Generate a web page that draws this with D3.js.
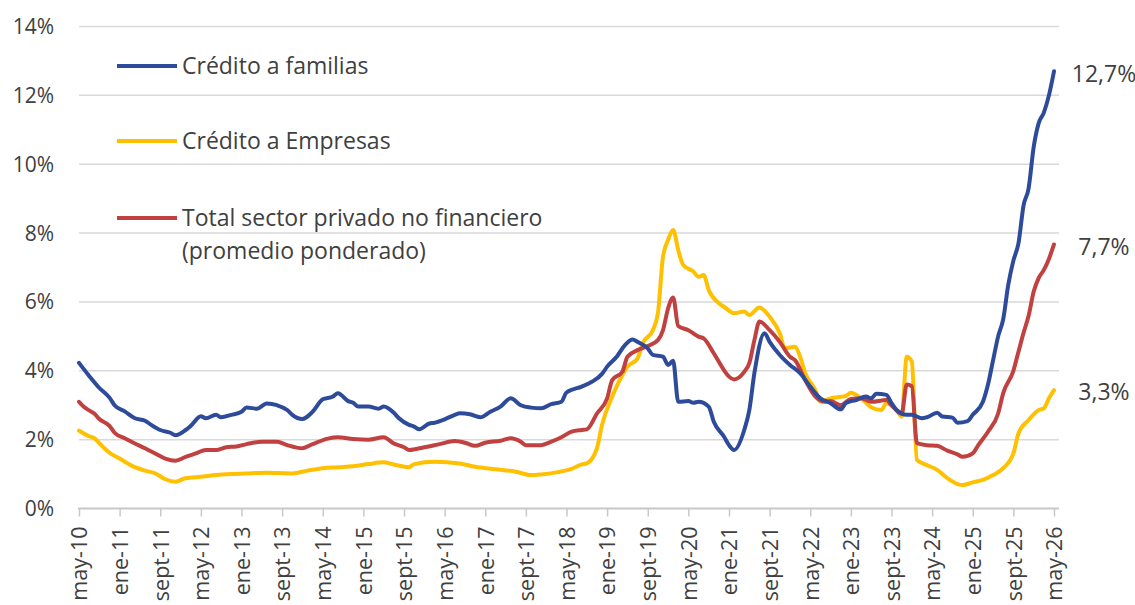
<!DOCTYPE html>
<html>
<head>
<meta charset="utf-8">
<script src="https://cdn.jsdelivr.net/npm/d3@7"></script>
<style>
  html, body { margin: 0; padding: 0; background: #fff; }
  svg { display: block; }
  text { font-family: "Open Sans", "Noto Sans", sans-serif; }
</style>
</head>
<body>
<svg id="chart" width="1135" height="605"></svg>
<script>
// ---- DATA (month index counted from May 2010 = 0, value in %) ----
const familias = [
  [0,4.23],[2,3.85],[4,3.5],[6,3.22],[7,3.0],[9,2.82],[11,2.62],[13,2.55],[14,2.45],[16,2.28],
  [18,2.2],[19,2.13],[21,2.28],[22,2.4],[24,2.68],[25,2.62],[27,2.72],[28,2.65],[30,2.72],[32,2.81],
  [33,2.93],[35,2.9],[37,3.05],[39,3.0],[41,2.86],[42,2.72],[44,2.6],[46,2.81],[48,3.17],[50,3.25],
  [51,3.35],[53,3.12],[54,3.07],[55,2.96],[57,2.96],[59,2.9],[60,2.96],[62,2.78],[63,2.62],[65,2.43],
  [66,2.38],[67,2.3],[69,2.47],[70,2.49],[72,2.59],[74,2.72],[75,2.77],[77,2.74],[79,2.65],[81,2.81],
  [83,2.96],[85,3.2],[87,3.0],[89,2.93],[91,2.91],[93,3.03],[95,3.1],[96,3.37],[99,3.54],[101,3.68],
  [103,3.91],[104,4.12],[106,4.43],[107,4.65],[109,4.91],[110,4.84],[112,4.65],[113,4.46],[115,4.41],[116,4.17],
  [117,4.29],[118,3.1],[120,3.12],[121,3.07],[122,3.1],[124,2.96],[125,2.52],[127,2.09],[128,1.84],[129,1.7],
  [131,2.28],[132,2.86],[133,3.93],[135,5.09],[136,4.84],[138,4.46],[140,4.17],[142,3.93],[144,3.54],[146,3.2],
  [148,3.06],[150,2.88],[151,3.06],[153,3.15],[155,3.25],[156,3.2],[157,3.33],[159,3.3],[160,3.06],[161,2.86],
  [163,2.72],[164,2.72],[166,2.62],[167,2.65],[169,2.78],[170,2.67],[172,2.64],[173,2.49],[175,2.54],[176,2.72],
  [178,3.1],[179,3.6],[180,4.3],[181,5.0],[182,5.5],[183,6.5],[184,7.2],[185,7.7],[186,8.8],[187,9.3],
  [188,10.5],[189,11.2],[190,11.5],[191,12.0],[192,12.7]
];
const empresas = [
  [0,2.26],[2,2.1],[3,2.04],[4,1.9],[5,1.75],[6,1.62],[8,1.45],[11,1.2],[13,1.1],[15,1.02],
  [17,0.85],[19,0.78],[21,0.88],[24,0.92],[27,0.97],[30,1.0],[33,1.02],[37,1.04],[42,1.02],[45,1.1],
  [48,1.17],[51,1.2],[54,1.23],[57,1.29],[60,1.34],[62,1.28],[65,1.2],[66,1.29],[70,1.36],[75,1.31],
  [78,1.21],[82,1.14],[86,1.07],[89,0.97],[91,0.99],[94,1.05],[97,1.15],[99,1.28],[100,1.31],[102,1.75],
  [103,2.43],[105,3.25],[107,3.88],[108,4.12],[110,4.36],[111,4.8],[113,5.18],[114,5.67],[115,7.31],[116,7.8],
  [117,8.09],[118,7.51],[119,7.07],[121,6.88],[122,6.73],[123,6.78],[124,6.35],[126,5.96],[127,5.86],[129,5.67],
  [131,5.72],[132,5.62],[134,5.84],[136,5.57],[138,5.09],[139,4.65],[141,4.7],[142,4.41],[143,3.93],[145,3.44],
  [146,3.1],[148,3.2],[151,3.27],[152,3.36],[154,3.2],[156,2.94],[158,2.86],[159,3.06],[161,2.86],[162,2.67],
  [163,4.41],[164,4.27],[165,1.41],[167,1.26],[169,1.12],[171,0.88],[173,0.71],[174,0.68],[176,0.76],[178,0.83],
  [180,0.97],[182,1.17],[184,1.6],[185,2.18],[187,2.57],[189,2.86],[190,2.91],[191,3.2],[192,3.44]
];
const total = [
  [0,3.1],[1,2.95],[2,2.85],[3,2.76],[4,2.6],[6,2.4],[7,2.2],[9,2.04],[11,1.89],[13,1.75],
  [15,1.6],[17,1.45],[19,1.39],[21,1.5],[23,1.6],[25,1.7],[27,1.7],[29,1.78],[31,1.8],[33,1.87],
  [36,1.94],[39,1.94],[41,1.84],[44,1.75],[46,1.87],[49,2.03],[51,2.07],[54,2.02],[57,2.0],[60,2.07],
  [62,1.89],[64,1.78],[65,1.7],[68,1.78],[71,1.87],[74,1.96],[76,1.91],[78,1.82],[80,1.91],[83,1.97],
  [85,2.04],[87,1.94],[88,1.84],[91,1.84],[93,1.94],[95,2.07],[97,2.23],[99,2.28],[100,2.3],[102,2.76],
  [104,3.2],[105,3.73],[107,3.97],[108,4.41],[110,4.6],[112,4.72],[114,4.89],[115,5.18],[116,5.81],[117,6.13],
  [118,5.3],[120,5.18],[122,4.99],[123,4.94],[125,4.51],[127,4.02],[128,3.83],[129,3.75],[131,3.97],[132,4.22],
  [133,4.89],[134,5.43],[136,5.18],[138,4.84],[140,4.41],[141,4.31],[143,3.73],[145,3.25],[147,3.1],[148,3.12],
  [150,3.0],[152,3.18],[154,3.2],[156,3.1],[159,3.15],[160,3.0],[162,2.75],[163,3.6],[164,3.55],[165,1.9],
  [167,1.84],[169,1.82],[171,1.68],[173,1.57],[174,1.5],[176,1.6],[177,1.82],[179,2.23],[181,2.76],[182,3.35],
  [184,4.0],[185,4.55],[186,5.1],[187,5.6],[188,6.3],[189,6.7],[190,6.93],[191,7.25],[192,7.67]
];
const tickMonths = [0,8,16,24,32,40,48,56,64,72,80,88,96,104,112,120,128,136,144,152,160,168,176,184,192];
const tickLabels = ["may-10","ene-11","sept-11","may-12","ene-13","sept-13","may-14","ene-15","sept-15",
  "may-16","ene-17","sept-17","may-18","ene-19","sept-19","may-20","ene-21","sept-21","may-22","ene-23",
  "sept-23","may-24","ene-25","sept-25","may-26"];
const yTicks = [0,2,4,6,8,10,12,14];
const seriesNames = ["Crédito a familias","Crédito a Empresas","Total sector privado no financiero"];
const legendSub = "(promedio ponderado)";
const endLabels = ["12,7%","3,3%","7,7%"];

// ---- CHART ----
const colors = ["#2e4b9b", "#ffc000", "#c0413f"];
const svg = d3.select("#chart");
const x = d3.scaleLinear().domain([0,192]).range([79,1054]);
const y = d3.scaleLinear().domain([0,14]).range([508.5,26.5]);

// gridlines
svg.append("g").selectAll("line").data(yTicks.filter(d => d > 0)).join("line")
  .attr("x1", 79).attr("x2", 1059)
  .attr("y1", d => y(d)).attr("y2", d => y(d))
  .attr("stroke", "#d9d9d9").attr("stroke-width", 1.5);

// y labels
svg.append("g").selectAll("text").data(yTicks).join("text")
  .attr("x", 54).attr("y", d => y(d)).attr("dy", "0.36em")
  .attr("text-anchor", "end").attr("font-size", 21).attr("fill", "#404040")
  .text(d => d + "%");

// x axis
const xAxis = d3.axisBottom(x).tickValues(tickMonths)
  .tickFormat((d,i) => tickLabels[i]).tickSize(8).tickSizeOuter(0);
const gx = svg.append("g").attr("transform", `translate(0,${y(0)})`).call(xAxis);
gx.select(".domain").attr("stroke", "#c8c8c8").attr("stroke-width", 2).attr("d", `M78,0H1059`);
gx.selectAll(".tick line").attr("stroke", "#c8c8c8").attr("stroke-width", 1.5);
gx.selectAll(".tick text")
  .attr("font-size", 21.5).attr("fill", "#404040")
  .attr("font-family", "'Open Sans', 'Noto Sans', sans-serif")
  .attr("transform", "rotate(-90)")
  .attr("text-anchor", "end")
  .attr("x", -18).attr("y", 0).attr("dy", "0.36em");

// lines
const line = d3.line().x(d => x(d[0])).y(d => y(d[1])).curve(d3.curveMonotoneX);
const all = [familias, empresas, total];
const drawOrder = [1, 2, 0];
drawOrder.forEach(i => {
  svg.append("path").datum(all[i])
    .attr("fill", "none").attr("stroke", colors[i]).attr("stroke-width", 4)
    .attr("stroke-linejoin", "round").attr("stroke-linecap", "round")
    .attr("d", line);
});

// end labels
all.forEach((s, i) => {
  const last = s[s.length - 1];
  svg.append("text")
    .attr("x", x(last[0]) + 50).attr("y", y(last[1]) + 2).attr("dy", "0.36em")
    .attr("text-anchor", "middle").attr("font-size", 23).attr("fill", "#404040")
    .text(endLabels[i]);
});

// legend
const legY = [66, 141, 218];
const leg = svg.append("g");
seriesNames.forEach((name, i) => {
  leg.append("line").attr("x1", 117).attr("x2", 177).attr("y1", legY[i]).attr("y2", legY[i])
    .attr("stroke", colors[i]).attr("stroke-width", 4);
  leg.append("text").attr("x", 182).attr("y", legY[i]).attr("dy", "0.36em")
    .attr("font-size", 23).attr("fill", "#404040").text(name);
});
leg.append("text").attr("x", 182).attr("y", 251).attr("dy", "0.36em")
  .attr("font-size", 23).attr("fill", "#404040").text(legendSub);
</script>
</body>
</html>
